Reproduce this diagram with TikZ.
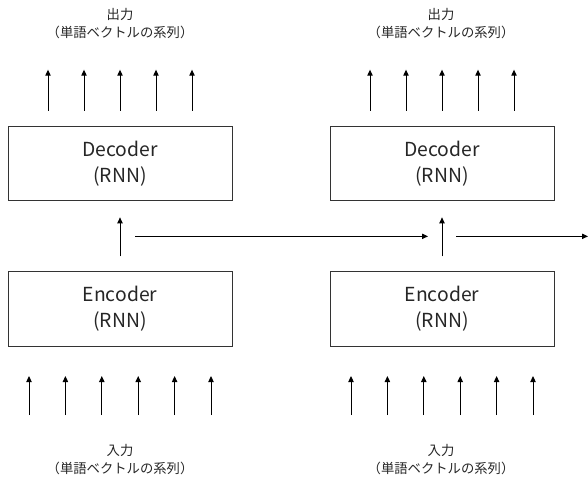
\documentclass[tikz,border=0pt]{standalone}
\usepackage{fontspec}
\setmainfont{Noto Sans CJK JP}
\usepackage{tikz}
\usetikzlibrary{arrows.meta, positioning, calc}

\begin{document}
\begin{tikzpicture}[x=0.75pt, y=-0.75pt,
    node distance=52.5pt,
    rnnbox/.style={rectangle, draw=black!80, line width=0.75pt, minimum width=168pt, minimum height=56pt, align=center, inner sep=0pt, font=\fontsize{14.5}{19.5}\selectfont, text=black!85},
    seqlabel/.style={align=center, inner sep=0pt, font=\fontsize{10}{13.5}\selectfont, text=black!85},
    arr/.style={-{Triangle[length=4.5pt, width=4pt]}, line width=0.75pt},
]
    \useasboundingbox (0,0) rectangle (588,481);

    \node[rnnbox] at (120,163.5) (dec1) {Decoder\\(RNN)};
    \node[rnnbox, below=of dec1] (enc1) {Encoder\\(RNN)};
    \node[rnnbox, right=72.75pt of dec1] (dec2) {Decoder\\(RNN)};
    \node[rnnbox, below=of dec2] (enc2) {Encoder\\(RNN)};

    \node[seqlabel] at (120,24) (out1) {出力\\（単語ベクトルの系列）};
    \node[seqlabel] at (441,24) (out2) {出力\\（単語ベクトルの系列）};
    \node[seqlabel] at (120,460) (in1) {入力\\（単語ベクトルの系列）};
    \node[seqlabel] at (441,460) (in2) {入力\\（単語ベクトルの系列）};

    % output words
    \foreach \d in {1,2} {
        \foreach \i in {1,...,5} {
            \coordinate (o\d s\i) at ([xshift={(\i-3)*27pt}, yshift=11.25pt]dec\d.north);
            \coordinate (o\d e\i) at ([yshift=30.75pt]o\d s\i);
            \draw[arr] (o\d s\i) -- (o\d e\i);
        }
    }

    % input words
    \foreach \d in {1,2} {
        \foreach \i in {1,...,6} {
            \coordinate (i\d s\i) at ([xshift={(\i-3.5)*27.3pt}, yshift=-51pt]enc\d.south);
            \coordinate (i\d e\i) at ([yshift=29.25pt]i\d s\i);
            \draw[arr] (i\d s\i) -- (i\d e\i);
        }
    }

    % encoder -> decoder, hidden state
    \foreach \d in {1,2} {
        \coordinate (m\d) at ($(dec\d.south)!0.5!(enc\d.north)$);
        \coordinate (ms\d) at ([yshift=11.25pt]enc\d.north);
        \coordinate (me\d) at ([yshift=-12pt]dec\d.south);
        \draw[arr] (ms\d) -- (me\d);
    }
    \coordinate (h1s) at ([xshift=11.25pt]m1);
    \coordinate (h1e) at ([xshift=-10.5pt]m2);
    \coordinate (h2s) at ([xshift=10.5pt]m2);
    \coordinate (h2e) at ([xshift=109.5pt]m2);
    \draw[arr] (h1s) -- (h1e);
    \draw[arr] (h2s) -- (h2e);
\end{tikzpicture}
\end{document}
